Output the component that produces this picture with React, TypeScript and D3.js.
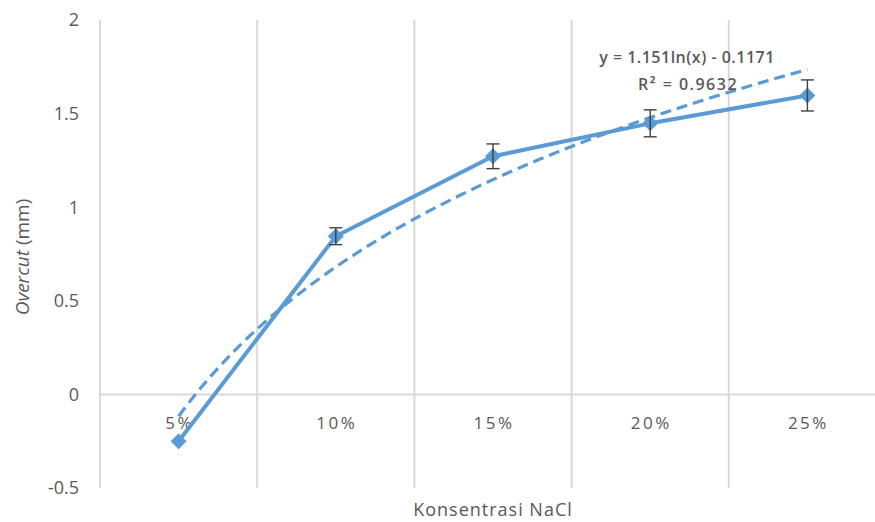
import React from "react";
import * as d3 from "d3";

const categories = ["5%", "10%", "15%", "20%", "25%"];
const values = [-0.25, 0.845, 1.272, 1.448, 1.597];
const errors = [0.0, 0.045, 0.066, 0.072, 0.083];
const yTicks = [-0.5, 0, 0.5, 1, 1.5, 2];
const trendA = 1.151;
const trendB = -0.1171;
const equationText = "y = 1.151ln(x) - 0.1171";
const r2Text = "0.9632";

const W = 875, H = 522;
const left = 100, right = 886, top = 20, bottom = 488;

export default function App() {
  const x = d3.scaleBand<string>().domain(categories).range([left, right]).padding(0);
  const y = d3.scaleLinear().domain([-0.5, 2]).range([bottom, top]);
  const cx = (i: number) => (x(categories[i]) as number) + x.bandwidth() / 2;
  const xi = d3.scaleLinear().domain([1, 5]).range([cx(0), cx(4)]);

  const line = d3.line<number>().x((_, i) => cx(i)).y((d) => y(d));
  const trendPts: number[] = d3.range(1, 5.0001, 0.05);
  const trend = d3.line<number>().x((t) => xi(t)).y((t) => y(trendA * Math.log(t) + trendB));

  const font = "'Open Sans', 'Liberation Sans', sans-serif";
  const gray = "#595959";
  const blue = "#5B9BD5";
  const ds = 8;
  const cap = 6.5;

  return (
    <svg width={W} height={H} style={{ position: "absolute", left: 0, top: 0 }}>
      <rect width={W} height={H} fill="#fff" />
      {categories.map((c) => (
        <line key={c} x1={x(c) as number} x2={x(c) as number} y1={top} y2={bottom} stroke="#d9d9d9" strokeWidth={2} />
      ))}
      <line x1={right} x2={right} y1={top} y2={bottom} stroke="#d9d9d9" strokeWidth={2} />
      <line x1={left} x2={right} y1={y(0)} y2={y(0)} stroke="#d9d9d9" strokeWidth={2} />
      {yTicks.map((t) => (
        <text key={t} x={79} y={y(t)} dy="0.36em" textAnchor="end" fontFamily={font} fontSize={18} fill={gray}>
          {t}
        </text>
      ))}
      {categories.map((c, i) => (
        <text key={c} x={cx(i) + 1} y={429} textAnchor="middle" fontFamily={font} fontSize={17} fill={gray} letterSpacing={2.5}>
          {c}
        </text>
      ))}
      <path d={trend(trendPts) || ""} fill="none" stroke={blue} strokeWidth={3.2} strokeDasharray="11,6" />
      <path d={line(values) || ""} fill="none" stroke={blue} strokeWidth={4} strokeLinejoin="round" />
      {values.map((v, i) => (
        <path
          key={i}
          d={`M${cx(i)},${y(v) - ds}L${cx(i) + ds},${y(v)}L${cx(i)},${y(v) + ds}L${cx(i) - ds},${y(v)}Z`}
          fill={blue}
        />
      ))}
      {values.map((v, i) =>
        errors[i] > 0 ? (
          <g key={"e" + i} stroke="#404040" strokeWidth={1.4}>
            <line x1={cx(i)} x2={cx(i)} y1={y(v + errors[i])} y2={y(v - errors[i])} />
            <line x1={cx(i) - cap} x2={cx(i) + cap} y1={y(v + errors[i])} y2={y(v + errors[i])} />
            <line x1={cx(i) - cap} x2={cx(i) + cap} y1={y(v - errors[i])} y2={y(v - errors[i])} />
          </g>
        ) : null
      )}
      <text x={687} y={63} textAnchor="middle" fontFamily={font} fontSize={16} fontWeight={600} fill={gray} letterSpacing={0.5}>
        {equationText}
      </text>
      <text x={688} y={90} textAnchor="middle" fontFamily={font} fontSize={16} fontWeight={600} fill={gray} letterSpacing={1.5}>
        R² = {r2Text}
      </text>
      <text x={493} y={516} textAnchor="middle" fontFamily={font} fontSize={18} fill={gray} letterSpacing={1}>
        Konsentrasi NaCl
      </text>
      <text transform={`translate(22,${257}) rotate(-90)`} dy="0.35em" textAnchor="middle" fontFamily={font} fontSize={19} fill={gray}>
        <tspan fontStyle="italic">Overcut</tspan> (mm)
      </text>
    </svg>
  );
}
